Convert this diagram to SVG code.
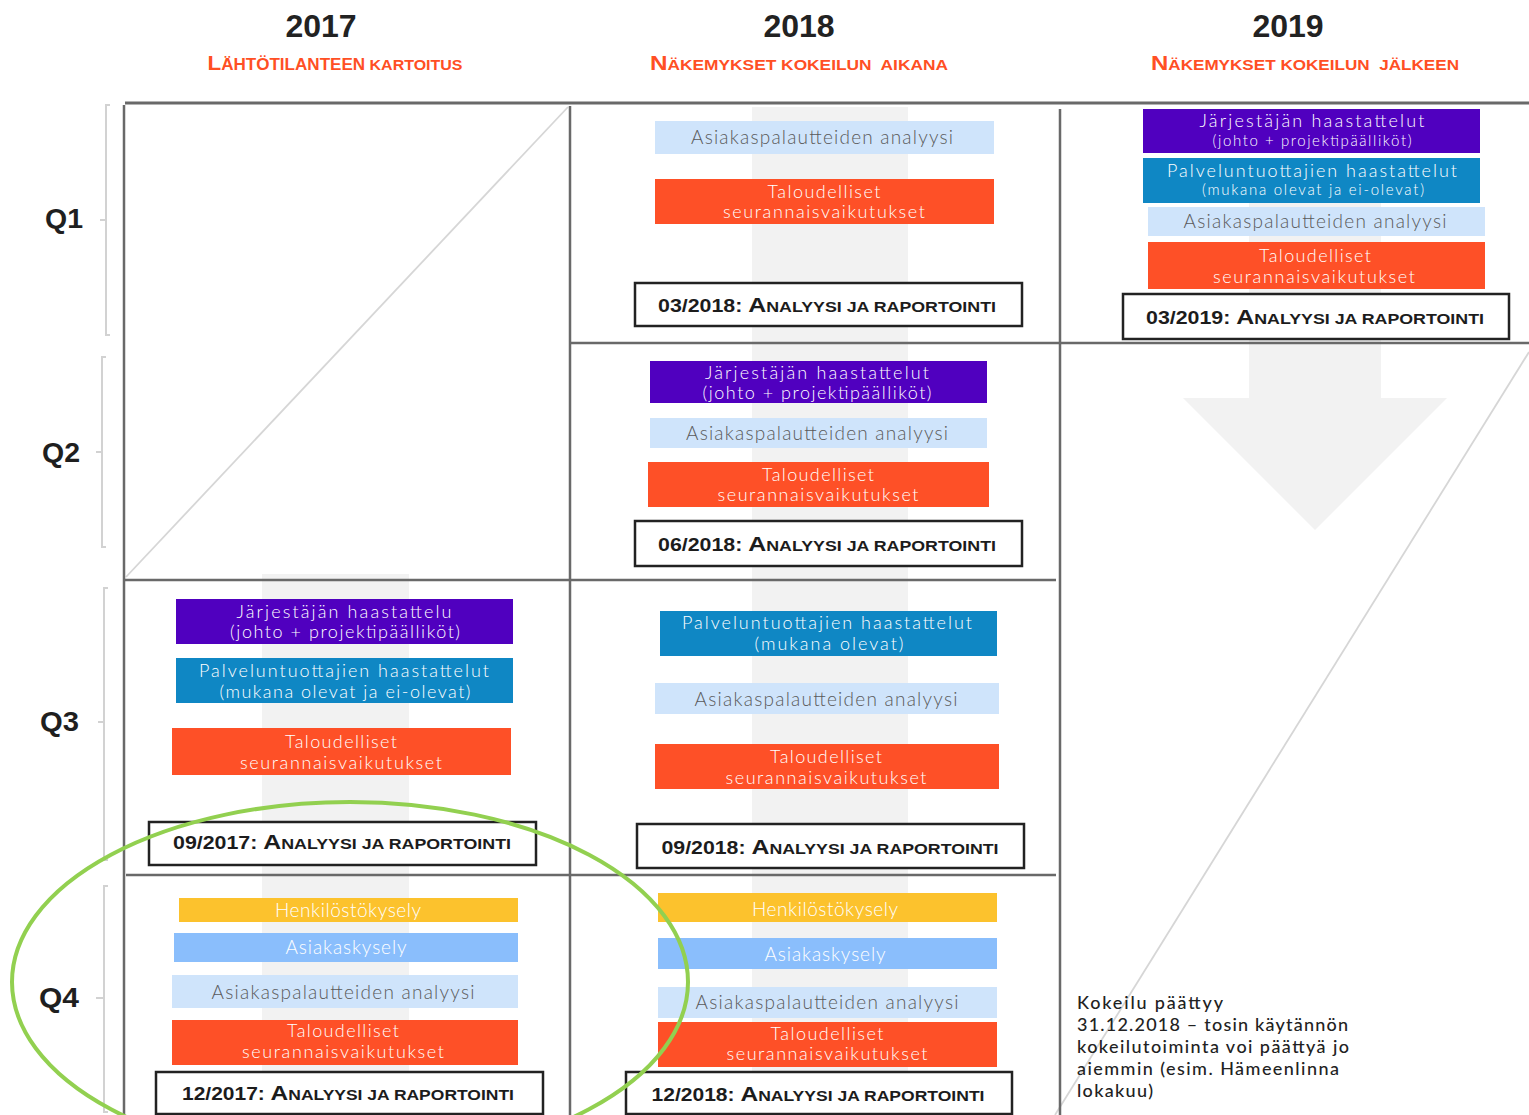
<svg xmlns="http://www.w3.org/2000/svg" width="1529" height="1115" viewBox="0 0 1529 1115">
<style>
.grid{stroke:#696969;stroke-width:2.5;fill:none}
.diag{stroke:#d6d6d6;stroke-width:1.8;fill:none}
.brk{stroke:#d2d2d2;stroke-width:2;fill:none}
.band{fill:#f2f2f2}
.yr{font-family:"Liberation Sans",Arial,sans-serif;font-weight:bold;font-size:32px;fill:#222;text-anchor:middle}
.sub{font-family:"Liberation Sans",Arial,sans-serif;font-weight:bold;font-size:15px;fill:#ff4f24;text-anchor:middle}
.q{font-family:"Liberation Sans",Arial,sans-serif;font-weight:bold;font-size:27px;fill:#1f1f1f}
.purple{fill:#5000bf}
.blue{fill:#0f87c4}
.orange{fill:#fe5027}
.light{fill:#cfe4fb}
.yellow{fill:#fcc22d}
.sky{fill:#8abefc}
.t{font-family:Lato,"Open Sans",sans-serif;font-weight:300;font-size:18px;text-anchor:middle}
.t1{font-size:19px}
.sm{font-size:15px}
.w{fill:#ffffff}
.g{fill:#5a5a5a}
.rep{fill:#ffffff;stroke:#222;stroke-width:2.5}
.rt{font-family:"Liberation Sans",Arial,sans-serif;font-weight:bold;font-size:18px;fill:#1c1c1c;text-anchor:middle}
.rb{font-size:21px}
.rs{font-size:15px}
.note{font-family:Lato,"Open Sans",sans-serif;font-weight:500;font-size:18px;fill:#222}
</style>

<g id="bands">
<rect class="band" x="752" y="107" width="156" height="1008"/>
<rect class="band" x="262" y="574" width="147" height="541"/>
<rect class="band" x="1249" y="180" width="132" height="163"/>
<path class="band" d="M1249,343 H1381 V398 H1447 L1315,530 L1183,398 H1249 Z"/>
</g>

<g id="grid">
<path class="diag" d="M126,577 L568,107"/>
<path class="diag" d="M1529,352 L1055,1115"/>
<path class="grid" d="M125,103 H1529" style="stroke-width:3"/>
<path class="grid" d="M124,105 V1115"/>
<path class="grid" d="M570,106 V1115"/>
<path class="grid" d="M1060,109 V1115"/>
<path class="grid" d="M570,343 H1529"/>
<path class="grid" d="M124,580 H1056"/>
<path class="grid" d="M126,875 H1056"/>
</g>

<g id="headers">
<text class="yr" x="321" y="37">2017</text>
<text class="yr" x="799" y="37">2018</text>
<text class="yr" x="1288" y="37">2019</text>
<text class="sub" x="335" y="70" textLength="255" lengthAdjust="spacingAndGlyphs"><tspan font-size="21">L</tspan><tspan font-size="16">ÄHTÖTILANTEEN</tspan> KARTOITUS</text>
<text class="sub" x="799" y="70" textLength="298" lengthAdjust="spacingAndGlyphs" xml:space="preserve"><tspan font-size="21">N</tspan>ÄKEMYKSET KOKEILUN  AIKANA</text>
<text class="sub" x="1305" y="70" textLength="308" lengthAdjust="spacingAndGlyphs" xml:space="preserve"><tspan font-size="21">N</tspan>ÄKEMYKSET KOKEILUN  JÄLKEEN</text>
</g>

<g id="quarters">
<path class="brk" d="M110,105 H106 V335 H110 M106,220 H100"/>
<path class="brk" d="M106,357 H102 V547 H106 M102,452 H96"/>
<path class="brk" d="M108,588 H104 V860 H108 M104,722 H98"/>
<path class="brk" d="M108,886 H104 V1112 H108 M104,998 H96"/>
<text class="q" x="45" y="228" textLength="38" lengthAdjust="spacingAndGlyphs">Q1</text>
<text class="q" x="42" y="462" textLength="38" lengthAdjust="spacingAndGlyphs">Q2</text>
<text class="q" x="40" y="731" textLength="39" lengthAdjust="spacingAndGlyphs">Q3</text>
<text class="q" x="39" y="1007" textLength="40" lengthAdjust="spacingAndGlyphs">Q4</text>
</g>

<!-- 2017 Q3 -->
<g id="n2017q3-jarjestaja">
<rect class="purple" x="176" y="599" width="337" height="45"/>
<text class="t w" x="344" y="618" textLength="215">Järjestäjän haastattelu</text>
<text class="t w" x="345" y="638" textLength="230">(johto + projektipäälliköt)</text>
</g>
<g id="n2017q3-palvelu">
<rect class="blue" x="176" y="658" width="337" height="45"/>
<text class="t w" x="344" y="677" textLength="290">Palveluntuottajien haastattelut</text>
<text class="t w" x="345" y="698" textLength="251">(mukana olevat ja ei-olevat)</text>
</g>
<g id="n2017q3-talous">
<rect class="orange" x="172" y="728" width="339" height="47"/>
<text class="t w" x="341" y="748" textLength="112">Taloudelliset</text>
<text class="t w" x="341" y="769" textLength="202">seurannaisvaikutukset</text>
</g>
<g id="n2017q3-raportti">
<rect class="rep" x="149" y="822" width="387" height="43"/>
<text class="rt" x="342" y="849" textLength="338" lengthAdjust="spacingAndGlyphs">09/2017: <tspan class="rb">A</tspan><tspan class="rs">NALYYSI JA RAPORTOINTI</tspan></text>
</g>

<!-- 2017 Q4 -->
<g id="n2017q4-henkilosto">
<rect class="yellow" x="179" y="898" width="339" height="24"/>
<text class="t t1 w" x="348" y="917" textLength="146">Henkilöstökysely</text>
</g>
<g id="n2017q4-asiakaskysely">
<rect class="sky" x="174" y="933" width="344" height="29"/>
<text class="t t1 w" x="346" y="954" textLength="121">Asiakaskysely</text>
</g>
<g id="n2017q4-palaute">
<rect class="light" x="172" y="975" width="346" height="33"/>
<text class="t t1 g" x="343" y="999" textLength="263">Asiakaspalautteiden analyysi</text>
</g>
<g id="n2017q4-talous">
<rect class="orange" x="172" y="1020" width="346" height="45"/>
<text class="t w" x="343" y="1037" textLength="112">Taloudelliset</text>
<text class="t w" x="343" y="1058" textLength="202">seurannaisvaikutukset</text>
</g>
<g id="n2017q4-raportti">
<rect class="rep" x="156" y="1072" width="387" height="42"/>
<text class="rt" x="348" y="1100" textLength="332" lengthAdjust="spacingAndGlyphs">12/2017: <tspan class="rb">A</tspan><tspan class="rs">NALYYSI JA RAPORTOINTI</tspan></text>
</g>

<!-- 2018 Q1 -->
<g id="n2018q1-palaute">
<rect class="light" x="655" y="121" width="339" height="33"/>
<text class="t t1 g" x="822" y="144" textLength="262">Asiakaspalautteiden analyysi</text>
</g>
<g id="n2018q1-talous">
<rect class="orange" x="655" y="179" width="339" height="45"/>
<text class="t w" x="824" y="198" textLength="113">Taloudelliset</text>
<text class="t w" x="824" y="218" textLength="202">seurannaisvaikutukset</text>
</g>
<g id="n2018q1-raportti">
<rect class="rep" x="635" y="283" width="387" height="43"/>
<text class="rt" x="827" y="312" textLength="338" lengthAdjust="spacingAndGlyphs">03/2018: <tspan class="rb">A</tspan><tspan class="rs">NALYYSI JA RAPORTOINTI</tspan></text>
</g>

<!-- 2018 Q2 -->
<g id="n2018q2-jarjestaja">
<rect class="purple" x="650" y="361" width="337" height="42"/>
<text class="t w" x="817" y="379" textLength="224">Järjestäjän haastattelut</text>
<text class="t w" x="817" y="399" textLength="229">(johto + projektipäälliköt)</text>
</g>
<g id="n2018q2-palaute">
<rect class="light" x="650" y="418" width="337" height="30"/>
<text class="t t1 g" x="817" y="440" textLength="262">Asiakaspalautteiden analyysi</text>
</g>
<g id="n2018q2-talous">
<rect class="orange" x="648" y="462" width="341" height="45"/>
<text class="t w" x="818" y="481" textLength="112">Taloudelliset</text>
<text class="t w" x="818" y="501" textLength="201">seurannaisvaikutukset</text>
</g>
<g id="n2018q2-raportti">
<rect class="rep" x="635" y="521" width="387" height="45"/>
<text class="rt" x="827" y="551" textLength="338" lengthAdjust="spacingAndGlyphs">06/2018: <tspan class="rb">A</tspan><tspan class="rs">NALYYSI JA RAPORTOINTI</tspan></text>
</g>

<!-- 2018 Q3 -->
<g id="n2018q3-palvelu">
<rect class="blue" x="660" y="611" width="337" height="45"/>
<text class="t w" x="827" y="629" textLength="290">Palveluntuottajien haastattelut</text>
<text class="t w" x="829" y="650" textLength="149">(mukana olevat)</text>
</g>
<g id="n2018q3-palaute">
<rect class="light" x="655" y="683" width="344" height="31"/>
<text class="t t1 g" x="826" y="706" textLength="263">Asiakaspalautteiden analyysi</text>
</g>
<g id="n2018q3-talous">
<rect class="orange" x="655" y="744" width="344" height="45"/>
<text class="t w" x="826" y="763" textLength="112">Taloudelliset</text>
<text class="t w" x="826" y="784" textLength="201">seurannaisvaikutukset</text>
</g>
<g id="n2018q3-raportti">
<rect class="rep" x="637" y="824" width="387" height="44"/>
<text class="rt" x="830" y="854" textLength="337" lengthAdjust="spacingAndGlyphs">09/2018: <tspan class="rb">A</tspan><tspan class="rs">NALYYSI JA RAPORTOINTI</tspan></text>
</g>

<!-- 2018 Q4 -->
<g id="n2018q4-henkilosto">
<rect class="yellow" x="658" y="893" width="339" height="29"/>
<text class="t t1 w" x="825" y="916" textLength="146">Henkilöstökysely</text>
</g>
<g id="n2018q4-asiakaskysely">
<rect class="sky" x="658" y="938" width="339" height="31"/>
<text class="t t1 w" x="825" y="961" textLength="121">Asiakaskysely</text>
</g>
<g id="n2018q4-palaute">
<rect class="light" x="658" y="987" width="339" height="31"/>
<text class="t t1 g" x="827" y="1009" textLength="263">Asiakaspalautteiden analyysi</text>
</g>
<g id="n2018q4-talous">
<rect class="orange" x="658" y="1022" width="339" height="45"/>
<text class="t w" x="827" y="1040" textLength="113">Taloudelliset</text>
<text class="t w" x="827" y="1060" textLength="201">seurannaisvaikutukset</text>
</g>
<g id="n2018q4-raportti">
<rect class="rep" x="626" y="1072" width="386" height="42"/>
<text class="rt" x="818" y="1101" textLength="333" lengthAdjust="spacingAndGlyphs">12/2018: <tspan class="rb">A</tspan><tspan class="rs">NALYYSI JA RAPORTOINTI</tspan></text>
</g>

<!-- 2019 -->
<g id="n2019-jarjestaja">
<rect class="purple" x="1143" y="109" width="337" height="44"/>
<text class="t w" x="1312" y="127" textLength="225">Järjestäjän haastattelut</text>
<text class="t sm w" x="1312" y="146" textLength="199">(johto + projektipäälliköt)</text>
</g>
<g id="n2019-palvelu">
<rect class="blue" x="1143" y="158" width="337" height="45"/>
<text class="t w" x="1312" y="177" textLength="290">Palveluntuottajien haastattelut</text>
<text class="t sm w" x="1313" y="195" textLength="222">(mukana olevat ja ei-olevat)</text>
</g>
<g id="n2019-palaute">
<rect class="light" x="1148" y="207" width="337" height="29"/>
<text class="t t1 g" x="1315" y="228" textLength="263">Asiakaspalautteiden analyysi</text>
</g>
<g id="n2019-talous">
<rect class="orange" x="1148" y="242" width="337" height="47"/>
<text class="t w" x="1315" y="262" textLength="112">Taloudelliset</text>
<text class="t w" x="1314" y="283" textLength="202">seurannaisvaikutukset</text>
</g>
<g id="n2019-raportti">
<rect class="rep" x="1123" y="294" width="386" height="45"/>
<text class="rt" x="1315" y="324" textLength="338" lengthAdjust="spacingAndGlyphs">03/2019: <tspan class="rb">A</tspan><tspan class="rs">NALYYSI JA RAPORTOINTI</tspan></text>
</g>

<g id="note">
<text class="note" x="1077" y="1009" textLength="146">Kokeilu päättyy</text>
<text class="note" x="1077" y="1031" textLength="271">31.12.2018 – tosin käytännön</text>
<text class="note" x="1077" y="1053" textLength="272">kokeilutoiminta voi päättyä jo</text>
<text class="note" x="1077" y="1075" textLength="262">aiemmin (esim. Hämeenlinna</text>
<text class="note" x="1077" y="1097" textLength="76">lokakuu)</text>
</g>

<g id="highlight">
<ellipse cx="350" cy="982" rx="338" ry="180" fill="none" stroke="#92d050" stroke-width="4"/>
</g>
</svg>
